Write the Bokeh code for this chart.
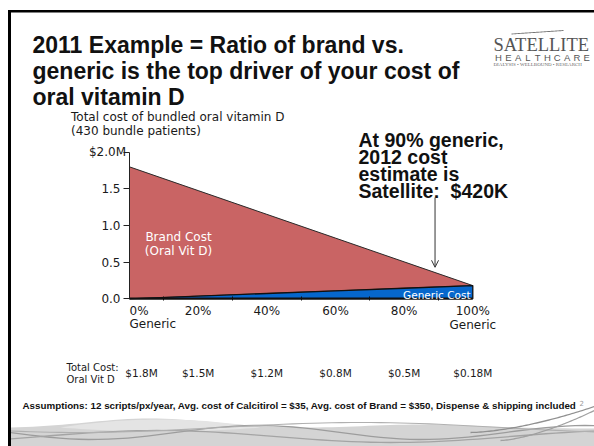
import math
from bokeh.plotting import figure
from bokeh.models import Range1d, FixedTicker, Label, Arrow, OpenHead, PolyAnnotation
from bokeh.embed import file_html
from bokeh.resources import INLINE

# ---------------- data ----------------
GENERIC_PCT = [0, 20, 40, 60, 80, 100]
BRAND_COST_M = [1.80, 1.44, 1.08, 0.72, 0.36, 0.00]
GENERIC_COST_M = [0.000, 0.036, 0.072, 0.108, 0.144, 0.180]
TOTAL_COST_LABELS = ["$1.8M", "$1.5M", "$1.2M", "$0.8M", "$0.5M", "$0.18M"]
X_TICK_LABELS = ["0%", "20%", "40%", "60%", "80%", "100%"]
X_MINOR_TICKS = [10, 30, 50, 70, 90]
Y_TICKS = [0, 0.5, 1, 1.5, 2]
Y_TICK_LABELS = ["0.0", "0.5", "1.0", "1.5", "$2.0M"]
ARROW_X = 89
ARROW_Y_START = 1.38
ARROW_Y_END = 0.43

TITLE_LINES = ["2011 Example = Ratio of brand vs.",
               "generic is the top driver of your cost of",
               "oral vitamin D"]
SUBTITLE_LINES = ["Total cost of bundled oral vitamin D", "(430 bundle patients)"]
NOTE_LINES = ["At 90% generic,", "2012 cost", "estimate is", "Satellite:\u00a0 $420K"]
ASSUMPTIONS = ("Assumptions: 12 scripts/px/year, Avg. cost of Calcitirol = $35, "
               "Avg. cost of Brand = $350, Dispense & shipping included")

TOTAL_COST_M = [b + g for b, g in zip(BRAND_COST_M, GENERIC_COST_M)]

RED = "#C96464"
BLUE = "#0667CC"
TXT = "#1a1a1a"

W, H = 594, 446

# pixel placement of the chart inside the slide (layout only)
X0_PX, X100_PX = 129.0, 472.3      # 0% and 100% generic
Y0_PX, Y2_PX = 298.3, 151.7        # $0 and $2.0M
px_per_x = (X100_PX - X0_PX) / 100.0
px_per_y = (Y0_PX - Y2_PX) / 2.0
x_range = Range1d(-X0_PX / px_per_x, 100 + (W - X100_PX) / px_per_x)
y_range = Range1d(-(H - Y0_PX) / px_per_y, 2 + Y2_PX / px_per_y)

BASE_SHIFT = 0.22  # em, baseline correction


def sx(rx):
    return rx


def sy(ry):
    return H - ry


p = figure(width=W, height=H, x_range=x_range, y_range=y_range,
           output_backend="svg", toolbar_location=None,
           min_border=0, min_border_left=0, min_border_right=0,
           min_border_top=0, min_border_bottom=0)
p.outline_line_color = None
p.grid.visible = False
p.background_fill_color = "white"
p.border_fill_color = "white"

# ---------------- areas ----------------
brand_xs = GENERIC_PCT + GENERIC_PCT[::-1]
brand_ys = TOTAL_COST_M + GENERIC_COST_M[::-1]
p.patch(brand_xs, brand_ys, fill_color=RED, line_color="#2a2a2a", line_width=1)

gen_xs = GENERIC_PCT + [GENERIC_PCT[-1], GENERIC_PCT[0]]
gen_ys = GENERIC_COST_M + [0, 0]
p.patch(gen_xs, gen_ys, fill_color=BLUE, line_color="#111111", line_width=1.3)

# ---------------- axes ----------------
xa = p.xaxis[0]
xa.fixed_location = 0
xa.bounds = (GENERIC_PCT[0], GENERIC_PCT[-1])
xa.ticker = FixedTicker(ticks=GENERIC_PCT, minor_ticks=X_MINOR_TICKS)
xa.major_label_overrides = {t: (lab if t != GENERIC_PCT[0] else "")
                            for t, lab in zip(GENERIC_PCT, X_TICK_LABELS)}
xa.major_label_overrides[GENERIC_PCT[-1]] = X_TICK_LABELS[-1] + "\nGeneric"
xa.axis_line_width = 2
xa.axis_line_color = "#111111"
xa.major_tick_line_color = None
xa.major_tick_in = 0
xa.major_tick_out = 0
xa.minor_tick_line_color = "#111111"
xa.minor_tick_in = 2
xa.minor_tick_out = 2
xa.major_label_standoff = 3
xa.major_label_text_font = "DejaVu Sans"
xa.major_label_text_font_size = "12px"
xa.major_label_text_color = TXT
xa.major_label_text_line_height = 1.0

ya = p.yaxis[0]
ya.fixed_location = 0
ya.bounds = (Y_TICKS[0], Y_TICKS[-1])
ya.ticker = FixedTicker(ticks=Y_TICKS)
ya.major_label_overrides = {t: (lab if t != Y_TICKS[-1] else "")
                            for t, lab in zip(Y_TICKS, Y_TICK_LABELS)}
ya.axis_line_color = "#222222"
ya.axis_line_width = 1
ya.major_tick_line_color = "#222222"
ya.major_tick_in = 0
ya.major_tick_out = 6
ya.minor_tick_line_color = None
ya.major_label_standoff = 3
ya.major_label_text_font = "DejaVu Sans"
ya.major_label_text_font_size = "12px"
ya.major_label_text_color = TXT


def label(text, rx, ry, size, color=TXT, bold=False, font="DejaVu Sans",
          align="left"):
    p.add_layout(Label(x=sx(rx), y=sy(ry - BASE_SHIFT * size), x_units="screen",
                       y_units="screen", text=text, text_font=font,
                       text_font_size=f"{size}px",
                       text_font_style="bold" if bold else "normal",
                       text_color=color, text_align=align, text_baseline="alphabetic"))


def dlabel(text, xd, ry, size, color=TXT, align="center", x_offset=0, font="DejaVu Sans"):
    p.add_layout(Label(x=xd, y=sy(ry - BASE_SHIFT * size), x_units="data", y_units="screen",
                       x_offset=x_offset, text=text, text_font=font,
                       text_font_size=f"{size}px", text_color=color,
                       text_align=align, text_baseline="alphabetic"))


# y-axis top label and x-axis first label
p.add_layout(Label(x=sx(125.5), y=Y_TICKS[-1], x_units="screen", y_units="data",
                   text=Y_TICK_LABELS[-1], text_font="DejaVu Sans", text_font_size="12px",
                   text_color=TXT, text_align="right", text_baseline="middle"))
dlabel(X_TICK_LABELS[0], GENERIC_PCT[0], 313.5, 12, align="left")
dlabel("Generic", GENERIC_PCT[0], 326, 12, align="left")

# in-plot labels
label("Brand Cost", 178, 239.5, 12, color="white", align="center")
label("(Oral Vit D)", 178, 253.5, 12, color="white", align="center")
label("Generic Cost", 470, 296.5, 10.5, color="white", align="right")

# annotation + arrow
for i, line in enumerate(NOTE_LINES):
    label(line, 358, 144 + 17 * i, 19.5, color="#111111", bold=True, font="Liberation Sans")
p.add_layout(Arrow(x_start=ARROW_X, y_start=ARROW_Y_START, x_end=ARROW_X, y_end=ARROW_Y_END,
                   line_color="#333333", line_width=1,
                   end=OpenHead(size=7, line_color="#333333", line_width=1)))

# title + subtitle
for i, line in enumerate(TITLE_LINES):
    label(line, 32, 50 + 26 * i, 23, color="#111111", bold=True, font="Liberation Sans")
for i, line in enumerate(SUBTITLE_LINES):
    label(line, 70.5, 119.5 + 14 * i, 12)

# bottom total-cost row
label("Total Cost:", 66, 369.5, 10)
label("Oral Vit D", 66, 381.5, 10)
for i, (xd, lab) in enumerate(zip(GENERIC_PCT, TOTAL_COST_LABELS)):
    dlabel(lab, xd, 375, 10.5, x_offset=12 if i == 0 else 0)

label(ASSUMPTIONS, 22, 407, 9.8, color="#111111", bold=True, font="Liberation Sans")
label("2", 579, 404, 7, color="#9a9a9a")

# logo
label("SATELLITE", 493, 49, 18.5, color="#555555", font="Liberation Serif")
for i, ch in enumerate("HEALTHCARE"):
    label(ch, 498 + i * 9.8, 59.5, 9.5, color="#555555", font="Liberation Sans", align="center")
label("DIALYSIS \u2022 WELLBOUND \u2022 RESEARCH", 493, 65.5, 5, color="#6a6a6a",
      font="Liberation Serif")


# ---------------- decorations ----------------
def poly(pts, color, alpha=1.0):
    p.add_layout(PolyAnnotation(xs=[sx(a) for a, _ in pts], ys=[sy(b) for _, b in pts],
                                xs_units="screen", ys_units="screen",
                                fill_color=color, fill_alpha=alpha, line_color=None))


def band(fn, x0, x1, thick, color, alpha=1.0):
    xs = [x0 + (x1 - x0) * k / 60 for k in range(61)]
    top = [(x, fn(x) - thick / 2) for x in xs]
    bot = [(x, fn(x) + thick / 2) for x in xs[::-1]]
    poly(top + bot, color, alpha)


# slide frame borders
poly([(8, 9.5), (594, 9.5), (594, 12), (8, 12)], "#000000")
poly([(7.5, 9.5), (10.5, 9.5), (10.5, 446), (7.5, 446)], "#000000")

# logo arc
band(lambda x: 33.5 - 3.5 * ((x - 511) / 52), 511, 563, 0.9, "#777777")

# bottom swoosh
xs_s = [10.5 + k * (594 - 10.5) / 80 for k in range(81)]
top_edge = [(x, 428 - 10 * math.exp(-((x - 150) / 90) ** 2)
             - 4 * math.exp(-((x - 420) / 80) ** 2)) for x in xs_s]
poly(top_edge + [(594, 446), (10.5, 446)], "#d4d4d4")
lens_x = [60 + k * 200 / 40 for k in range(41)]
poly([(x, 419 + 8 * ((x - 160) / 100) ** 2) for x in lens_x] +
     [(x, 431 - 4 * ((x - 160) / 100) ** 2) for x in lens_x[::-1]], "#e4e4e4")
band(lambda x: 418.5 - 2.5 * math.sin(math.pi * (x - 40) / 190), 40, 230, 1.6, "#ffffff")
band(lambda x: 432 + 7 * math.sin(2 * math.pi * (x - 10) / 330), 10.5, 594, 1.3, "#9c9c9c")
band(lambda x: 436 - 6 * math.sin(2 * math.pi * (x - 40) / 470), 10.5, 594, 1.3, "#a4a4a4")
band(lambda x: 427 + 5 * math.sin(2 * math.pi * (x + 60) / 560), 10.5, 594, 1.1, "#b0b0b0")
band(lambda x: 432 - 26 * ((x - 470) / 124) ** 1.6, 470, 594, 1.3, "#909090")
band(lambda x: 440 - 30 * ((x - 500) / 94) ** 1.5, 500, 594, 1.3, "#a0a0a0")

open("out.html", "w").write(file_html(p, INLINE))
